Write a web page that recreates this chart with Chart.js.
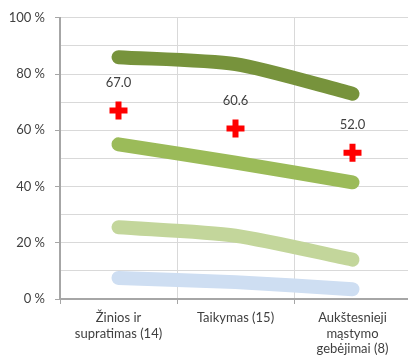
<!DOCTYPE html>
<html>
<head>
<meta charset="utf-8">
<script src="https://cdn.jsdelivr.net/npm/chart.js@4"></script>
<style>
  html, body { margin: 0; padding: 0; background: #fff; overflow: hidden; }
  #wrap { width: 411px; height: 363px; }
</style>
</head>
<body>
<div id="wrap"><canvas id="chart"></canvas></div>
<script>
// Chart data
const categories = [
  ["Žinios ir", "supratimas (14)"],
  "Taikymas (15)",
  ["Aukštesnieji", "mąstymo", "gebėjimai (8)"],
];
const topLevel = [86, 83.5, 73];
const upperLevel = [55, 48.5, 41.5];
const basicLevel = [25.5, 22.5, 14];
const lowLevel = [7.5, 6, 3.5];
const averageScore = [67.0, 60.6, 52.0];

const textColor = "#404040";
const fontFamily = "Lato, 'Liberation Sans', sans-serif";

// Draws the value labels above the red crosses
const valueLabels = {
  id: "valueLabels",
  afterDatasetsDraw(chart) {
    const ctx = chart.ctx;
    const meta = chart.getDatasetMeta(4);
    ctx.save();
    ctx.fillStyle = textColor;
    ctx.font = "13px " + fontFamily;
    ctx.textAlign = "center";
    ctx.textBaseline = "middle";
    meta.data.forEach((pt, i) => {
      ctx.fillText(averageScore[i].toFixed(1), pt.x, pt.y - 28);
    });
    ctx.restore();
  },
};

function lineSet(data, color) {
  return {
    type: "line",
    data: data,
    borderColor: color,
    backgroundColor: color,
    borderWidth: 14,
    borderCapStyle: "round",
    borderJoinStyle: "round",
    tension: 0.25,
    pointRadius: 0,
    fill: false,
    clip: false,
  };
}

const ctx = document.getElementById("chart").getContext("2d");
new Chart(ctx, {
  type: "line",
  data: {
    labels: categories,
    datasets: [
      lineSet(lowLevel, "#CEDEF2"),
      lineSet(basicLevel, "#C3D69B"),
      lineSet(upperLevel, "#9BBB59"),
      lineSet(topLevel, "#77933C"),
      {
        type: "line",
        data: averageScore,
        showLine: false,
        pointStyle: "cross",
        pointRadius: 9,
        pointBorderWidth: 6,
        pointBorderColor: "#FF0000",
        pointBackgroundColor: "#FF0000",
        pointHoverRadius: 9,
      },
    ],
  },
  options: {
    responsive: true,
    maintainAspectRatio: false,
    animation: false,
    layout: { autoPadding: false, padding: { top: 11, right: 0, left: 0, bottom: 0 } },
    plugins: {
      legend: { display: false },
      tooltip: { enabled: false },
    },
    scales: {
      x: {
        offset: true,
        grid: {
          offset: true,
          color: "#d9d9d9",
          tickColor: "#a6a6a6",
          tickLength: 5,
        },
        border: { color: "#a6a6a6", width: 2 },
        ticks: {
          color: textColor,
          font: { family: fontFamily, size: 13 },
          maxRotation: 0,
          autoSkip: false,
          padding: 6,
        },
        afterFit(scale) {
          scale.height = 64;
        },
      },
      y: {
        min: 0,
        max: 100,
        grid: {
          color: "#d9d9d9",
          tickColor: (c) => (c.tick && c.tick.value % 20 === 0 ? "#a6a6a6" : "rgba(0,0,0,0)"),
          tickLength: 5,
        },
        border: { color: "#a6a6a6", width: 2 },
        ticks: {
          stepSize: 10,
          autoSkip: false,
          color: textColor,
          font: { family: fontFamily, size: 13 },
          padding: 10,
          callback: (v) => (v % 20 === 0 ? v + " %" : ""),
        },
        afterFit(scale) {
          scale.width = 60;
        },
      },
    },
  },
  plugins: [valueLabels],
});
</script>
</body>
</html>
